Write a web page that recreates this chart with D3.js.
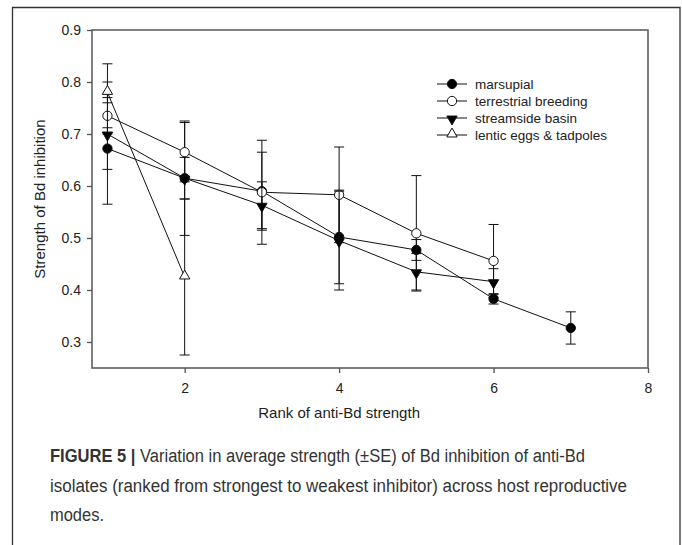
<!DOCTYPE html>
<html>
<head>
<meta charset="utf-8">
<title>Figure 5</title>
<style>
body { margin: 0; background: #fff; }
text { font-family: "Liberation Sans", Arial, sans-serif; }
</style>
<script src="https://d3js.org/d3.v7.min.js"></script>
</head>
<body>
<script>
// values
var seriesNames = ["marsupial", "terrestrial breeding", "streamside basin", "lentic eggs & tadpoles"];
var marsupialRank = [1, 2, 3, 4, 5, 6, 7];
var marsupialMean = [0.672, 0.615, 0.590, 0.502, 0.477, 0.383, 0.327];
var marsupialSE   = [0.040, 0.110, 0.075, 0.090, 0.020, 0.010, 0.031];
var terrestrialRank = [1, 2, 3, 4, 5, 6];
var terrestrialMean = [0.735, 0.665, 0.588, 0.583, 0.509, 0.456];
var terrestrialSE   = [0.035, 0.057, 0.100, 0.092, 0.111, 0.070];
var streamsideRank = [1, 2, 3, 4, 5, 6];
var streamsideMean = [0.700, 0.615, 0.563, 0.495, 0.435, 0.416];
var streamsideSE   = [0.135, 0.040, 0.045, 0.095, 0.035, 0.025];
var lenticRank = [1, 2];
var lenticMean = [0.780, 0.425];
var lenticSE   = [0.020, 0.150];
var xTicks = [2, 4, 6, 8];
var yTicks = [0.3, 0.4, 0.5, 0.6, 0.7, 0.8, 0.9];
var captionLines = [
  "Variation in average strength (\u00b1SE) of Bd inhibition of anti-Bd",
  "isolates (ranked from strongest to weakest inhibitor) across host reproductive",
  "modes."
];

function pack(rank, mean, se) {
  return rank.map(function(r, i) { return {x: r, y: mean[i], se: se[i]}; });
}
var series = [
  {name: seriesNames[0], symbol: "circle", fill: "#000", data: pack(marsupialRank, marsupialMean, marsupialSE)},
  {name: seriesNames[1], symbol: "circle", fill: "#fff", data: pack(terrestrialRank, terrestrialMean, terrestrialSE)},
  {name: seriesNames[2], symbol: "down", fill: "#000", data: pack(streamsideRank, streamsideMean, streamsideSE)},
  {name: seriesNames[3], symbol: "up", fill: "#fff", data: pack(lenticRank, lenticMean, lenticSE)}
];

var W = 682, H = 545;
var plotL = 92, plotT = 30, plotR = 648, plotB = 368;

var svg = d3.select("body").append("svg")
  .attr("width", W)
  .attr("height", H);

// outer figure box (open at the bottom)
svg.append("path")
  .attr("d", "M12.5," + H + "V7.5H680V" + H)
  .attr("fill", "none")
  .attr("stroke", "#333")
  .attr("stroke-width", 1.3);

var x = d3.scaleLinear().domain([0.8, 8]).range([plotL, plotR]);
var y = d3.scaleLinear().domain([0.25, 0.9]).range([plotB, plotT]);

// frame
svg.append("rect")
  .attr("x", plotL).attr("y", plotT)
  .attr("width", plotR - plotL).attr("height", plotB - plotT)
  .attr("fill", "none")
  .attr("stroke", "#555")
  .attr("stroke-width", 1.5);

var xAxis = svg.append("g")
  .attr("transform", "translate(0," + plotB + ")")
  .call(d3.axisBottom(x).tickValues(xTicks).tickSize(5).tickPadding(10).tickFormat(d3.format("d")));
var yAxis = svg.append("g")
  .attr("transform", "translate(" + plotL + ",0)")
  .call(d3.axisLeft(y).tickValues(yTicks).tickSize(5).tickPadding(6).tickFormat(d3.format(".1f")));
[xAxis, yAxis].forEach(function(g) {
  g.select(".domain").remove();
  g.selectAll("line").attr("stroke", "#555").attr("stroke-width", 1.3);
  g.selectAll("text").attr("font-size", "14px").attr("fill", "#222")
    .attr("font-family", "'Liberation Sans', Arial, sans-serif");
});

svg.append("text")
  .attr("x", x(4.0))
  .attr("y", 418)
  .attr("text-anchor", "middle")
  .attr("font-size", "15px")
  .attr("fill", "#222")
  .text("Rank of anti-Bd strength");

svg.append("text")
  .attr("transform", "translate(45," + ((plotT + plotB) / 2) + ") rotate(-90)")
  .attr("text-anchor", "middle")
  .attr("font-size", "15px")
  .attr("fill", "#222")
  .text("Strength of Bd inhibition");

function symbolPath(s) {
  if (s == "circle") return d3.symbol().type(d3.symbolCircle).size(68)();
  return d3.symbol().type(d3.symbolTriangle).size(46)();
}
function symbolTransform(s, px, py) {
  if (s == "down") return "translate(" + px + "," + (py + 1) + ") rotate(180)";
  if (s == "up") return "translate(" + px + "," + (py - 1) + ")";
  return "translate(" + px + "," + py + ")";
}

var line = d3.line()
  .x(function(d) { return x(d.x); })
  .y(function(d) { return y(d.y); });

var cap = 5;
series.forEach(function(s) {
  var g = svg.append("g");
  g.append("path")
    .attr("d", line(s.data))
    .attr("fill", "none")
    .attr("stroke", "#111")
    .attr("stroke-width", 1);

  var eb = g.selectAll("g.err")
    .data(s.data)
    .enter().append("g")
    .attr("class", "err");
  eb.append("line")
    .attr("x1", function(d) { return x(d.x); })
    .attr("x2", function(d) { return x(d.x); })
    .attr("y1", function(d) { return y(d.y + d.se); })
    .attr("y2", function(d) { return y(d.y - d.se); })
    .attr("stroke", "#111");
  eb.append("line")
    .attr("x1", function(d) { return x(d.x) - cap; })
    .attr("x2", function(d) { return x(d.x) + cap; })
    .attr("y1", function(d) { return y(d.y + d.se); })
    .attr("y2", function(d) { return y(d.y + d.se); })
    .attr("stroke", "#111");
  eb.append("line")
    .attr("x1", function(d) { return x(d.x) - cap; })
    .attr("x2", function(d) { return x(d.x) + cap; })
    .attr("y1", function(d) { return y(d.y - d.se); })
    .attr("y2", function(d) { return y(d.y - d.se); })
    .attr("stroke", "#111");

  g.selectAll("path.pt")
    .data(s.data)
    .enter().append("path")
    .attr("class", "pt")
    .attr("d", symbolPath(s.symbol))
    .attr("transform", function(d) { return symbolTransform(s.symbol, x(d.x), y(d.y)); })
    .attr("fill", s.fill)
    .attr("stroke", "#111")
    .attr("stroke-width", 1);
});

// legend
var legend = svg.append("g")
  .selectAll("g")
  .data(series)
  .enter().append("g")
  .attr("transform", function(d, i) { return "translate(437," + (84 + i * 17) + ")"; });
legend.append("line")
  .attr("x1", 0).attr("x2", 30)
  .attr("stroke", "#111");
legend.append("path")
  .attr("d", function(d) { return symbolPath(d.symbol); })
  .attr("transform", function(d) { return symbolTransform(d.symbol, 15, 0); })
  .attr("fill", function(d) { return d.fill; })
  .attr("stroke", "#111");
legend.append("text")
  .attr("x", 38)
  .attr("y", 0)
  .attr("dy", "0.35em")
  .attr("font-size", "13.5px")
  .attr("fill", "#222")
  .text(function(d) { return d.name; });

// caption
var cap1 = svg.append("text")
  .attr("x", 50)
  .attr("y", 462)
  .attr("font-size", "18px")
  .attr("fill", "#333")
  .attr("font-family", "'Liberation Sans Narrow', 'Liberation Sans', Arial, sans-serif");
cap1.append("tspan").attr("font-weight", "bold").text("FIGURE 5 | ");
cap1.append("tspan").text(captionLines[0]);
cap1.attr("textLength", 535).attr("lengthAdjust", "spacingAndGlyphs");

svg.append("text")
  .attr("x", 50)
  .attr("y", 492)
  .attr("font-size", "18px")
  .attr("fill", "#333")
  .attr("font-family", "'Liberation Sans Narrow', 'Liberation Sans', Arial, sans-serif")
  .attr("textLength", 577)
  .attr("lengthAdjust", "spacingAndGlyphs")
  .text(captionLines[1]);

svg.append("text")
  .attr("x", 50)
  .attr("y", 521)
  .attr("font-size", "18px")
  .attr("fill", "#333")
  .attr("font-family", "'Liberation Sans Narrow', 'Liberation Sans', Arial, sans-serif")
  .attr("textLength", 54)
  .attr("lengthAdjust", "spacingAndGlyphs")
  .text(captionLines[2]);
</script>
</body>
</html>
